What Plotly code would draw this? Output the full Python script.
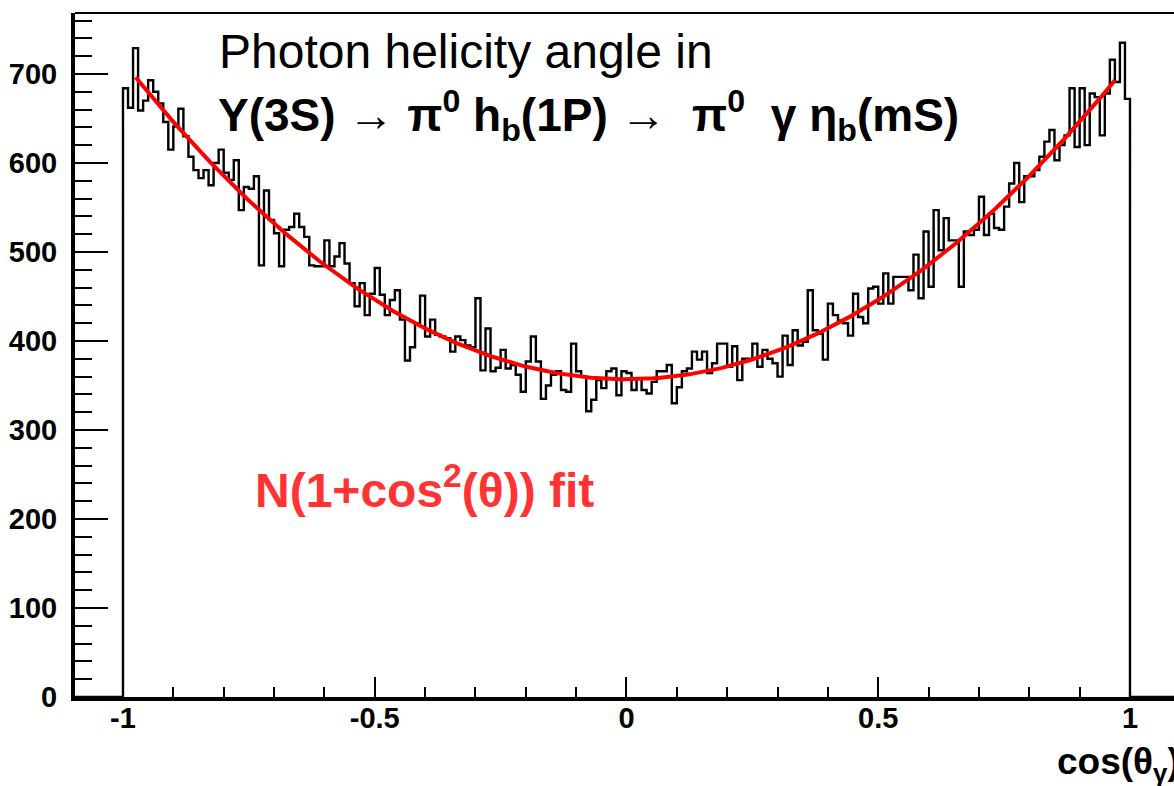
import numpy as np
import plotly.graph_objects as go

# ---- data ----
bin_low, bin_high, n_bins = -1.0, 1.0, 200
counts = [
    684, 662, 729, 659, 670, 693, 680, 667, 646, 615,
    641, 661, 630, 607, 592, 583, 592, 575, 600, 615,
    589, 581, 603, 547, 573, 571, 585, 485, 569, 536,
    521, 484, 525, 528, 543, 528, 517, 485, 484, 484,
    513, 484, 495, 510, 487, 465, 439, 465, 429, 453,
    482, 452, 429, 446, 457, 424, 378, 393, 420, 451,
    405, 424, 407, 405, 403, 388, 405, 401, 395, 393,
    448, 367, 414, 366, 370, 390, 369, 373, 362, 343,
    377, 405, 377, 335, 350, 362, 366, 345, 343, 397,
    366, 360, 321, 334, 356, 347, 366, 369, 339, 366,
    364, 345, 358, 345, 341, 354, 366, 366, 373, 330,
    348, 366, 369, 388, 379, 388, 364, 375, 397, 397,
    371, 394, 356, 380, 380, 397, 371, 390, 380, 375,
    360, 406, 373, 412, 395, 399, 457, 412, 408, 379,
    442, 429, 423, 420, 406, 453, 427, 420, 459, 461,
    442, 476, 442, 472, 472, 472, 457, 497, 448, 523,
    461, 547, 502, 538, 513, 513, 461, 523, 519, 525,
    562, 519, 543, 527, 525, 551, 577, 600, 556, 585,
    585, 592, 607, 624, 637, 603, 620, 631, 684, 618,
    684, 620, 678, 674, 631, 678, 716, 691, 735, 672,
]
fit_N = 357.0
fit_range = [-0.975, 0.97]

x_tickvals = [-1, -0.5, 0, 0.5, 1]
x_ticktext = ["-1", "-0.5", "0", "0.5", "1"]
y_tickvals = [0, 100, 200, 300, 400, 500, 600, 700]
y_ticktext = ["0", "100", "200", "300", "400", "500", "600", "700"]

x_range = [-1.0953, 1.0874]
y_range = [0, 768.5]

# ---- build step outline from the bins ----
edges = np.linspace(bin_low, bin_high, n_bins + 1)
sx = [x_range[0], edges[0]]
sy = [0, 0]
for i, c in enumerate(counts):
    sx += [edges[i], edges[i + 1]]
    sy += [c, c]
sx += [edges[-1], x_range[1]]
sy += [0, 0]

fx = np.linspace(fit_range[0], fit_range[1], 300)
fy = fit_N * (1 + fx ** 2)   # N(1+cos^2 theta) with x = cos theta

fig = go.Figure()
fig.add_trace(go.Scatter(x=sx, y=sy, mode="lines",
                         line=dict(color="black", width=2.4),
                         hoverinfo="skip", showlegend=False))
fig.add_trace(go.Scatter(x=fx, y=fy, mode="lines",
                         line=dict(color="#ff0000", width=4),
                         hoverinfo="skip", showlegend=False))

FONT = "Liberation Sans, Arial, sans-serif"
tick_font = dict(family=FONT, size=29, color="black", weight="bold")

fig.update_layout(
    width=1174, height=786,
    margin=dict(l=75, r=0, t=13, b=89),
    paper_bgcolor="white", plot_bgcolor="white",
    showlegend=False,
    xaxis=dict(range=x_range, showgrid=False, zeroline=False,
               showline=True, linecolor="black", linewidth=4,
               ticks="inside", ticklen=20, tickwidth=2, tickcolor="black",
               tickmode="array", tickvals=x_tickvals, ticktext=x_ticktext,
               tickfont=tick_font, ticklabelstandoff=-8,
               minor=dict(dtick=0.1, tick0=0, ticks="inside", ticklen=10,
                          tickwidth=2, tickcolor="black", showgrid=False)),
    yaxis=dict(range=y_range, showgrid=False, zeroline=False,
               showline=True, linecolor="black", linewidth=4,
               ticks="inside", ticklen=33, tickwidth=2, tickcolor="black",
               tickmode="array", tickvals=y_tickvals, ticktext=y_ticktext,
               tickfont=tick_font, ticklabelstandoff=8,
               minor=dict(dtick=20, tick0=0, ticks="inside", ticklen=17,
                          tickwidth=2, tickcolor="black", showgrid=False)),
    shapes=[dict(type="line", xref="paper", yref="paper", x0=0, x1=1, y0=1, y1=1,
                 line=dict(color="black", width=2))],
)

W, H, L, T, B = 1174, 786, 75, 13, 89
pw, ph = W - L, H - T - B


def px(xp):
    return (xp - L) / pw


def py(yp):
    return (H - B - yp) / ph


fig.add_annotation(text="Photon helicity angle in", xref="paper", yref="paper",
                   x=px(217), y=py(52), xanchor="left", yanchor="middle",
                   showarrow=False,
                   font=dict(family=FONT, size=48, color="black"))
fig.add_annotation(text="Y(3S) \u2192 \u03c0<sup>0</sup> h<sub>b</sub>(1P) \u2192  \u03c0<sup>0</sup>  \u03b3 \u03b7<sub>b</sub>(mS)",
                   xref="paper", yref="paper",
                   x=px(216), y=py(116), xanchor="left", yanchor="middle",
                   showarrow=False,
                   font=dict(family=FONT, size=46, color="black", weight="bold"))
fig.add_annotation(text="N(1+cos<sup>2</sup>(\u03b8)) fit", xref="paper", yref="paper",
                   x=px(253), y=py(487), xanchor="left", yanchor="middle",
                   showarrow=False,
                   font=dict(family=FONT, size=48, color="#ff3333", weight="bold"))
fig.add_annotation(text="cos(\u03b8<sub>\u03b3</sub>)", xref="paper", yref="paper",
                   x=px(1055), y=py(764), xanchor="left", yanchor="middle",
                   showarrow=False,
                   font=dict(family=FONT, size=37, color="black", weight="bold"))

fig.write_html("out.html")
